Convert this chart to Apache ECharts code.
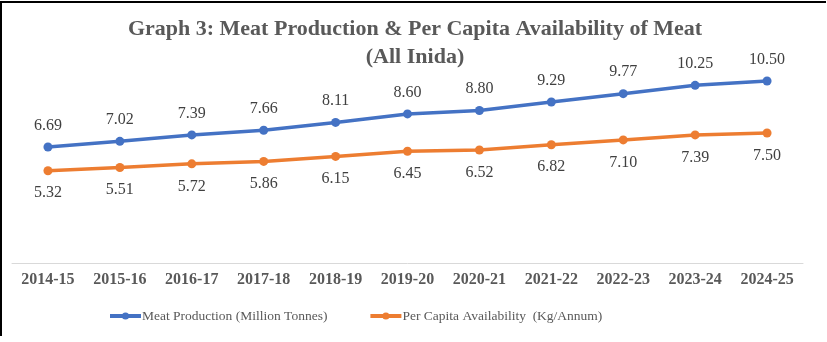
<!DOCTYPE html>
<html>
<head>
<meta charset="utf-8">
<script src="https://cdn.jsdelivr.net/npm/echarts@6/dist/echarts.min.js"></script>
<style>
html,body{margin:0;padding:0;background:#fff;}
#c{width:827px;height:342px;}
</style>
</head>
<body>
<div id="c"></div>
<script>
const categories = ['2014-15','2015-16','2016-17','2017-18','2018-19','2019-20','2020-21','2021-22','2022-23','2023-24','2024-25'];
const meatProduction = [6.69,7.02,7.39,7.66,8.11,8.60,8.80,9.29,9.77,10.25,10.50];
const perCapita = [5.32,5.51,5.72,5.86,6.15,6.45,6.52,6.82,7.10,7.39,7.50];
const seriesNames = ['Meat Production (Million Tonnes)','Per Capita Availability  (Kg/Annum)'];

const chart = echarts.init(document.getElementById('c'), null, {renderer:'canvas'});
const serif = '"Liberation Serif", "Times New Roman", serif';
chart.setOption({
  animation:false,
  backgroundColor:'#fff',
  title:{
    text:'Graph 3: Meat Production & Per Capita Availability of Meat\n(All Inida)',
    left:410, textAlign:'center', top:10,
    textStyle:{fontFamily:serif,fontWeight:'bold',fontSize:22,color:'#595959',lineHeight:28}
  },
  legend:{
    bottom:14, left:103, itemGap:41, itemWidth:31, itemHeight:9,
    lineStyle:{width:4},
    textStyle:{fontFamily:serif,fontSize:13.5,color:'#595959',padding:[0,0,0,-4]},
    data:seriesNames
  },
  grid:{left:12,right:24,top:55,bottom:79,containLabel:false},
  xAxis:{
    type:'category', data:categories, boundaryGap:true,
    axisLine:{lineStyle:{color:'#d9d9d9',width:1}},
    axisTick:{show:false},
    axisLabel:{fontFamily:serif,fontWeight:'bold',fontSize:16,color:'#595959',margin:9}
  },
  yAxis:{
    type:'value', min:0, max:12, interval:2, show:false,
    splitLine:{show:false}
  },
  series:[
    {
      name:seriesNames[0], type:'line', data:meatProduction,
      symbol:'circle', symbolSize:9,
      lineStyle:{color:'#4472C4',width:3.5},
      itemStyle:{color:'#4472C4'},
      label:{show:true,position:'top',distance:9,formatter:p=>p.value.toFixed(2),fontFamily:serif,fontSize:16,color:'#404040'}
    },
    {
      name:seriesNames[1], type:'line', data:perCapita,
      symbol:'circle', symbolSize:9,
      lineStyle:{color:'#ED7D31',width:3.5},
      itemStyle:{color:'#ED7D31'},
      label:{show:true,position:'bottom',distance:10,formatter:p=>p.value.toFixed(2),fontFamily:serif,fontSize:16,color:'#404040'}
    }
  ],
  graphic:[
    {type:'line',shape:{x1:0,y1:2,x2:826,y2:2},style:{stroke:'#000',lineWidth:2}},
    {type:'line',shape:{x1:1,y1:1,x2:1,y2:336},style:{stroke:'#000',lineWidth:2}}
  ]
});
</script>
</body>
</html>
